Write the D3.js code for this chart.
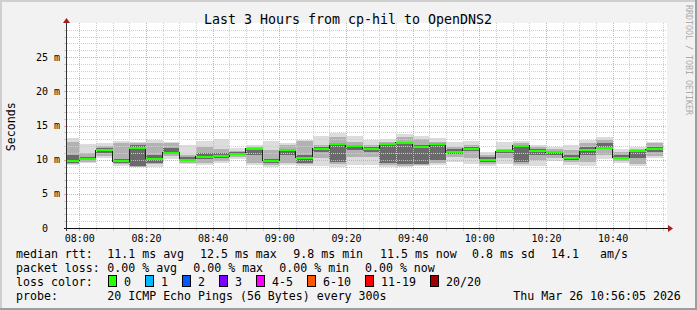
<!DOCTYPE html>
<html><head><meta charset="utf-8">
<script src="https://cdn.jsdelivr.net/npm/d3@7"></script>
<style>
body{margin:0;background:#f2f2f2}
svg{display:block}
text{font-family:"DejaVu Sans Mono",monospace;fill:#000;white-space:pre}
</style>
</head><body>
<svg id="c" width="697" height="310"></svg>
<script>
// ---- data (ms) ----
const times = ["07:55","08:00","08:05","08:10","08:15","08:20","08:25","08:30","08:35","08:40","08:45","08:50","08:55","09:00","09:05","09:10","09:15","09:20","09:25","09:30","09:35","09:40","09:45","09:50","09:55","10:00","10:05","10:10","10:15","10:20","10:25","10:30","10:35","10:40","10:45","10:50"];
const median = [9.85,10.1,11.4,9.8,11.7,10.1,11.0,9.95,10.4,10.5,10.9,11.6,9.85,11.4,10.25,11.6,12.3,11.95,11.6,12.25,12.5,11.9,12.3,11.1,11.6,9.95,11.2,12.05,11.3,11.1,10.3,11.35,11.75,10.25,11.25,11.55];
const outerHi = [13.22,12.24,12.49,12.78,12.63,12.88,12.63,12.14,12.78,13.02,11.66,12.14,12.78,12.49,12.88,13.51,13.85,13.46,12.88,12.97,13.75,13.46,13.12,12.63,12.78,11.17,12.53,12.78,12.14,11.90,12.14,12.88,13.27,11.51,11.90,12.63];
const outerLo = [9.22,9.46,10.19,9.12,8.88,8.97,10.14,9.36,9.22,9.46,10.05,9.22,8.97,9.22,9.07,9.12,8.97,9.22,9.22,8.97,8.97,9.07,9.22,9.61,9.36,9.12,9.36,9.12,9.12,9.85,9.22,9.12,10.10,9.56,9.12,10.19];
const midHi = [12.63,11.02,12.05,12.49,12.39,12.39,12.39,10.68,11.90,11.51,11.32,11.90,11.41,12.14,12.73,12.14,13.27,12.63,12.14,12.63,13.27,12.97,12.63,11.90,12.14,10.68,11.51,12.49,11.80,11.51,11.41,12.39,12.88,11.17,11.51,12.39];
const midLo = [9.36,9.71,10.53,9.36,8.97,9.36,10.53,9.56,9.56,9.85,10.34,9.56,9.22,9.56,9.36,10.19,9.36,10.44,10.44,9.22,9.12,9.22,9.46,10.34,10.19,9.36,10.19,9.36,9.95,10.19,9.71,9.71,10.68,9.85,9.36,10.53];
const innerHi = [10.68,10.44,11.66,10.14,12.10,10.68,11.66,10.34,10.93,11.02,11.07,11.75,10.14,11.61,10.68,11.80,12.49,12.14,11.80,12.35,12.60,12.14,12.39,11.51,11.80,10.34,11.41,12.14,11.51,11.32,10.68,11.90,12.39,10.68,11.32,11.90];
const innerLo = [9.56,9.95,10.93,9.56,9.07,9.56,10.78,9.75,10.14,10.24,10.63,10.68,9.46,10.68,9.46,11.17,9.71,11.41,11.17,9.46,9.32,9.36,9.95,10.83,11.32,9.61,10.93,9.71,10.68,10.68,9.95,10.68,11.51,10.05,10.19,11.17];
const yTickValues = [0,5,10,15,20,25];
const yTickLabels = ["0","5 m","10 m","15 m","20 m","25 m"];
const lossLabels = ["0","1","2","3","4-5","6-10","11-19","20/20"];
const lossColors = ["#26ff00","#00b8ff","#0059ff","#7e00ff","#ff00ff","#ff5500","#ff0000","#a10000"];
const title = "Last 3 Hours from cp-hil to OpenDNS2";
const rttRow = [["median rtt:",16],["11.1 ms avg",107.3],["12.5 ms max",200],["9.8 ms min",293.3],["11.5 ms now",380],["0.8 ms sd",472],["14.1",551],["am/s",600]];
const lossRow = [["packet loss:",16],["0.00 % avg",107.3],["0.00 % max",193.3],["0.00 % min",279.3],["0.00 % now",365]];
const probeRow = [["probe:",16],["20 ICMP Echo Pings (56 Bytes) every 300s",107.3],["Thu Mar 26 10:56:05 2026",513.3]];

// ---- layout ----
const W=697,H=310,L=67,R=667,T=23,B=228;
const svg = d3.select("#c");
const pt = d3.timeParse("%H:%M");
const toDate = s => { const d = pt(s); return new Date(2026,2,26,d.getHours(),d.getMinutes()); };
const x = d3.scaleTime().domain([new Date(2026,2,26,7,56,19), new Date(2026,2,26,10,56,19)]).range([L,R]);
const y = d3.scaleLinear().domain([0,30]).range([B,T]);

// background + frame
svg.append("rect").attr("width",W).attr("height",H).attr("fill","#f2f2f2");
svg.append("rect").attr("x",0).attr("y",0).attr("width",W).attr("height",2).attr("fill","#cfcfcf");
svg.append("rect").attr("x",0).attr("y",0).attr("width",2).attr("height",H).attr("fill","#cfcfcf");
svg.append("rect").attr("x",0).attr("y",H-2).attr("width",W).attr("height",2).attr("fill","#9e9e9e");
svg.append("rect").attr("x",W-2).attr("y",0).attr("width",2).attr("height",H).attr("fill","#9e9e9e");
svg.append("rect").attr("x",L).attr("y",T).attr("width",R-L).attr("height",B-T).attr("fill","#fff");

svg.append("defs").append("clipPath").attr("id","pc").append("rect").attr("x",L).attr("y",T).attr("width",R-L).attr("height",B-T);
const plot = svg.append("g").attr("clip-path","url(#pc)").attr("shape-rendering","crispEdges");

const bins = times.map((t,i)=>{ const s=toDate(t); return {s, e:new Date(+s+300000), i}; });
function band(hi, lo, color){
  plot.append("g").selectAll("rect").data(bins).join("rect")
    .attr("x",d=>x(d.s)).attr("width",d=>x(d.e)-x(d.s))
    .attr("y",d=>y(hi[d.i])).attr("height",d=>y(lo[d.i])-y(hi[d.i]))
    .attr("fill",color);
}
band(outerHi,outerLo,"#dcdcdc");
band(midHi,midLo,"#b2b2b2");
band(innerHi,innerLo,"#6a6a6a");

// grid
const grid = svg.append("g").attr("shape-rendering","crispEdges");
const minorX = x.ticks(d3.timeMinute.every(5));
const majorX = x.ticks(d3.timeMinute.every(20));
const isMajorX = d => majorX.some(m=>+m===+d);
const minorY = y.ticks(30).filter(v=>v>0 && v<30);
const px = v => Math.round(v)+0.5;
grid.selectAll(".gx").data(minorX).join("line")
  .attr("x1",d=>px(x(d))).attr("x2",d=>px(x(d))).attr("y1",T).attr("y2",B)
  .attr("stroke",d=>isMajorX(d)?"#f2a0a0":"#cfcfcf").attr("stroke-dasharray","1,1");
grid.selectAll(".gy").data(minorY).join("line")
  .attr("x1",L).attr("x2",R).attr("y1",d=>px(y(d))).attr("y2",d=>px(y(d)))
  .attr("stroke",d=>d%5===0?"#f2a0a0":"#cfcfcf").attr("stroke-dasharray","1,1");
// axis ticks
grid.selectAll(".tx").data(minorX).join("line")
  .attr("x1",d=>px(x(d))).attr("x2",d=>px(x(d))).attr("y1",B).attr("y2",B+3)
  .attr("stroke",d=>isMajorX(d)?"#f2a0a0":"#cfcfcf");
grid.selectAll(".ty").data(minorY).join("line")
  .attr("x1",L-3).attr("x2",L).attr("y1",d=>px(y(d))).attr("y2",d=>px(y(d)))
  .attr("stroke",d=>d%5===0?"#f2a0a0":"#cfcfcf");

// median line
const stepPts = bins.map(d=>[x(d.s), y(median[d.i])]);
stepPts.push([x(bins[bins.length-1].e), y(median[median.length-1])]);
svg.append("g").attr("clip-path","url(#pc)").append("path")
  .attr("d", d3.line().curve(d3.curveStepAfter)(stepPts))
  .attr("fill","none").attr("stroke","#202020").attr("stroke-width",1).attr("shape-rendering","crispEdges");
svg.append("g").attr("clip-path","url(#pc)").attr("shape-rendering","crispEdges")
  .selectAll("rect").data(bins).join("rect")
  .attr("x",d=>x(d.s)).attr("width",d=>x(d.e)-x(d.s))
  .attr("y",d=>Math.round(y(median[d.i]))-1).attr("height",2)
  .attr("fill",lossColors[0]);

// axes
svg.append("line").attr("x1",L-3).attr("x2",R+1).attr("y1",B+0.5).attr("y2",B+0.5).attr("stroke","#111");
svg.append("line").attr("x1",L-0.5).attr("x2",L-0.5).attr("y1",B+3).attr("y2",T-1).attr("stroke","#333");
svg.append("path").attr("d",`M${R+1},${B-3}L${R+6},${B+0.5}L${R+1},${B+4}Z`).attr("fill","#a51c1c");
svg.append("path").attr("d",`M${L-4},${T-0}L${L-0.5},${T-5}L${L+3},${T-0}Z`).attr("fill","#a51c1c");

// tick labels
svg.append("g").selectAll("text").data(majorX).join("text")
  .attr("x",d=>x(d)+0.5).attr("y",241.5).attr("text-anchor","middle")
  .style("font-size","10px").text(d3.timeFormat("%H:%M"));
svg.append("g").selectAll("text").data(yTickValues).join("text")
  .attr("x",60).attr("y",(d)=>y(d)+3.6).attr("text-anchor","end")
  .style("font-size","10px").text((d,i)=> yTickLabels[i].includes(" ") ? yTickLabels[i] : yTickLabels[i]+"  ");

// title and axis label
svg.append("text").attr("x",348).attr("y",24).attr("text-anchor","middle").style("font-size","13.3px").text(title);
svg.append("text").attr("transform","translate(15,126.7) rotate(-90)").attr("text-anchor","middle").style("font-size","11.6px").text("Seconds");
svg.append("text").attr("transform","translate(685.5,5) rotate(90)").style("font-size","8.3px").style("fill","#ababab").text("RRDTOOL / TOBI OETIKER");

// legend
function row(items, yb){
  svg.append("g").selectAll("text").data(items).join("text")
    .attr("x",d=>d[1]).attr("y",yb).style("font-size","11.6px").text(d=>d[0]);
}
row(rttRow,258);
row(lossRow,272);
row(probeRow,300);
svg.append("text").attr("x",16).attr("y",286).style("font-size","11.6px").text("loss color:");
const boxX = [108.5,145.5,182.5,219.5,256.5,307.5,365.5,430.5];
const lg = svg.append("g").selectAll("g").data(lossLabels).join("g");
lg.append("rect").attr("x",(d,i)=>boxX[i]).attr("y",275.5).attr("width",8).attr("height",11)
  .attr("fill",(d,i)=>lossColors[i]).attr("stroke","#000");
lg.append("text").attr("x",(d,i)=>boxX[i]+15.5).attr("y",286).style("font-size","11.6px").text(d=>d);
</script>
</body></html>
